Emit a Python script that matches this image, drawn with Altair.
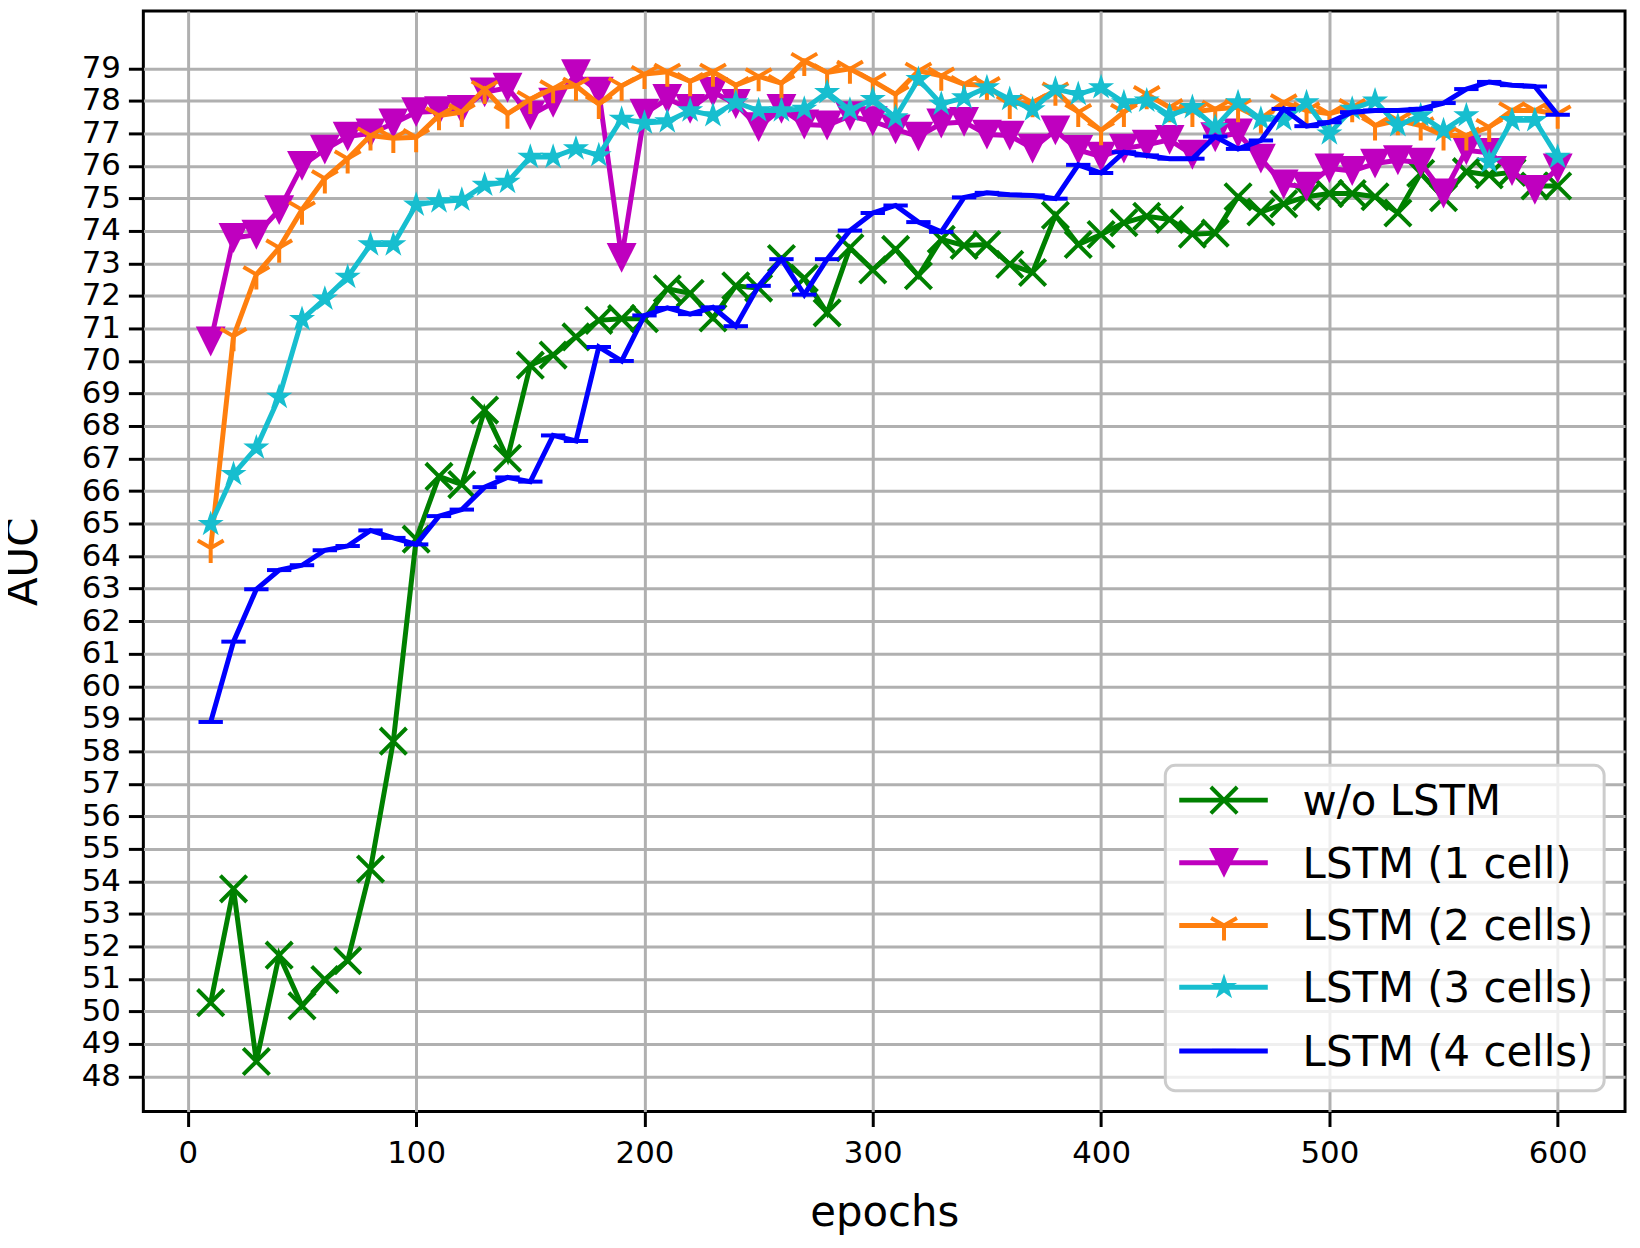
import altair as alt
import pandas as pd

epochs = list(range(10, 601, 10))

wo_lstm = [50.27, 53.77, 48.46, 51.73, 50.17, 50.98, 51.56, 54.38, 58.31, 64.52,
           66.45, 66.20, 68.49, 67.01, 69.87, 70.18, 70.74, 71.25, 71.30, 71.30,
           72.22, 72.08, 71.32, 72.31, 72.24, 73.15, 72.54, 71.48, 73.48, 72.80,
           73.43, 72.62, 73.74, 73.55, 73.58, 72.97, 72.72, 74.48, 73.58, 73.89,
           74.25, 74.45, 74.35, 73.90, 73.93, 75.05, 74.58, 74.83, 75.05, 75.15,
           75.15, 75.05, 74.55, 75.77, 75.02, 75.82, 75.72, 75.80, 75.38, 75.38]

lstm1 = [70.60, 73.78, 73.88, 74.64, 76.00, 76.50, 76.90, 77.00, 77.30, 77.65,
         77.68, 77.72, 78.26, 78.40, 77.55, 77.94, 78.82, 78.28, 73.17, 77.60,
         78.06, 77.75, 78.27, 77.90, 77.19, 77.75, 77.27, 77.24, 77.53, 77.37,
         77.12, 76.90, 77.30, 77.35, 76.96, 76.93, 76.53, 77.09, 76.49, 76.28,
         76.53, 76.65, 76.80, 76.34, 76.88, 77.00, 76.22, 75.43, 75.36, 75.92,
         75.84, 76.07, 76.17, 76.10, 75.15, 76.48, 76.40, 75.84, 75.26, 75.92]

lstm2 = [64.25, 70.76, 72.66, 73.48, 74.65, 75.61, 76.22, 76.93, 76.85, 76.88,
         77.55, 77.65, 78.36, 77.60, 78.05, 78.38, 78.46, 77.90, 78.46, 78.82,
         78.89, 78.60, 78.89, 78.48, 78.75, 78.54, 79.22, 78.87, 78.98, 78.61,
         78.20, 78.92, 78.77, 78.51, 78.48, 77.90, 77.95, 78.31, 77.65, 77.09,
         77.65, 78.20, 77.80, 77.65, 77.75, 77.80, 77.45, 77.95, 77.70, 77.60,
         77.80, 77.24, 77.40, 77.24, 76.93, 76.93, 77.19, 77.70, 77.70, 77.60]

lstm3 = [64.98, 66.52, 67.33, 68.89, 71.28, 71.91, 72.58, 73.58, 73.58, 74.80,
         74.90, 74.95, 75.41, 75.50, 76.27, 76.27, 76.53, 76.32, 77.44, 77.32,
         77.36, 77.70, 77.55, 77.95, 77.70, 77.70, 77.75, 78.26, 77.72, 78.05,
         77.49, 78.66, 77.90, 78.10, 78.41, 78.05, 77.73, 78.36, 78.20, 78.41,
         77.95, 78.00, 77.55, 77.80, 77.19, 77.95, 77.44, 77.42, 77.95, 76.99,
         77.75, 78.00, 77.24, 77.55, 77.09, 77.55, 76.12, 77.40, 77.40, 76.27]

lstm4 = [58.90, 61.37, 62.98, 63.57, 63.72, 64.18, 64.31, 64.79, 64.56, 64.36,
         65.23, 65.43, 66.12, 66.42, 66.29, 67.71, 67.54, 70.43, 70.00, 71.40,
         71.63, 71.44, 71.65, 71.07, 72.31, 73.13, 72.04, 73.13, 74.01, 74.55,
         74.78, 74.27, 73.97, 75.03, 75.17, 75.11, 75.09, 74.99, 76.03, 75.78,
         76.42, 76.32, 76.22, 76.22, 76.90, 76.52, 76.78, 77.75, 77.22, 77.34,
         77.65, 77.70, 77.70, 77.75, 77.93, 78.36, 78.58, 78.48, 78.44, 77.57]

labels = ["w/o LSTM", "LSTM (1 cell)", "LSTM (2 cells)", "LSTM (3 cells)", "LSTM (4 cells)"]
colors = ["#008000", "#bf00bf", "#ff7f0e", "#17becf", "#0000ff"]
x_ticks = [0, 100, 200, 300, 400, 500, 600]
y_ticks = list(range(48, 80))

FONT = "DejaVu Sans"

# marker shapes (SVG paths in the unit box)
X_PATH = "M-1,-1L1,1M-1,1L1,-1"
TRI_DOWN = "M-1,-1L1,-1L0,1Z"
TRI_1 = "M0,0L0,1M0,0L-0.866,-0.5M0,0L0.866,-0.5"
STAR = ("M0,-1L0.225,-0.309L0.951,-0.309L0.363,0.118L0.588,0.809L0,0.382"
        "L-0.588,0.809L-0.363,0.118L-0.951,-0.309L-0.225,-0.309Z")
HLINE = "M-1,0L1,0"

markers = [
    dict(shape=X_PATH, filled=False, size=700, strokeWidth=4),
    dict(shape=TRI_DOWN, filled=True, size=900, strokeWidth=0),
    dict(shape=TRI_1, filled=False, size=900, strokeWidth=4),
    dict(shape=STAR, filled=True, size=760, strokeWidth=0),
    dict(shape=HLINE, filled=False, size=600, strokeWidth=4),
]

X_SCALE = alt.Scale(domain=[-19.5, 629.5], nice=False, zero=False)
Y_SCALE = alt.Scale(domain=[46.92, 80.76], nice=False, zero=False)

x_axis = alt.Axis(values=x_ticks, title="epochs", grid=True, format="d",
                  labelFontSize=31, titleFontSize=42, labelFont=FONT, titleFont=FONT,
                  tickSize=15, tickWidth=3, tickColor="black", labelPadding=12,
                  labelColor="black", titleColor="black", titleFontWeight="normal",
                  titleY=114, titleBaseline="alphabetic", domain=False,
                  gridColor="#b0b0b0", gridWidth=3)
y_axis = alt.Axis(values=y_ticks, title="AUC", grid=True, format="d",
                  labelFontSize=31, titleFontSize=42, labelFont=FONT, titleFont=FONT,
                  tickSize=15, tickWidth=3, tickColor="black", labelPadding=8,
                  labelColor="black", titleColor="black", titleFontWeight="normal",
                  titleX=-107, titleBaseline="alphabetic", domain=False,
                  gridColor="#b0b0b0", gridWidth=3)

series = [wo_lstm, lstm1, lstm2, lstm3, lstm4]
layers = []
for vals, col, mk in zip(series, colors, markers):
    df = pd.DataFrame({"epoch": epochs, "auc": vals})
    enc = dict(x=alt.X("epoch:Q", scale=X_SCALE, axis=x_axis),
               y=alt.Y("auc:Q", scale=Y_SCALE, axis=y_axis))
    base = alt.Chart(df)
    layers.append(base.mark_line(color=col, strokeWidth=5).encode(**enc))
    layers.append(base.mark_point(color=col, opacity=1, **mk).encode(**enc))

# legend (layout only)
one = pd.DataFrame({"k": [0]})
layers.append(
    alt.Chart(one).mark_rect(fill="white", fillOpacity=0.8, stroke="#cccccc",
                             strokeWidth=3, cornerRadius=10).encode(
        x=alt.value(1027), x2=alt.value(1468), y=alt.value(758), y2=alt.value(1085))
)
row_y = [793, 856, 919, 981, 1045]
for lab, col, mk, ry in zip(labels, colors, markers, row_y):
    layers.append(alt.Chart(one).mark_rule(color=col, strokeWidth=5).encode(
        x=alt.value(1041), x2=alt.value(1130), y=alt.value(ry)))
    layers.append(alt.Chart(one).mark_point(color=col, opacity=1, **mk).encode(
        x=alt.value(1086), y=alt.value(ry)))
    layers.append(alt.Chart(one).mark_text(text=lab, align="left", baseline="middle",
                                           fontSize=42, font=FONT, color="black").encode(
        x=alt.value(1165), y=alt.value(ry + 2)))

chart = alt.layer(*layers).properties(
    width=1489, height=1106,
    autosize=alt.AutoSizeParams(type="none"),
    padding={"left": 136, "top": 0, "right": 7, "bottom": 126},
    background="white",
).configure_view(stroke="black", strokeWidth=3)

chart.save("out.html", embed_options={"renderer": "svg", "actions": False})
